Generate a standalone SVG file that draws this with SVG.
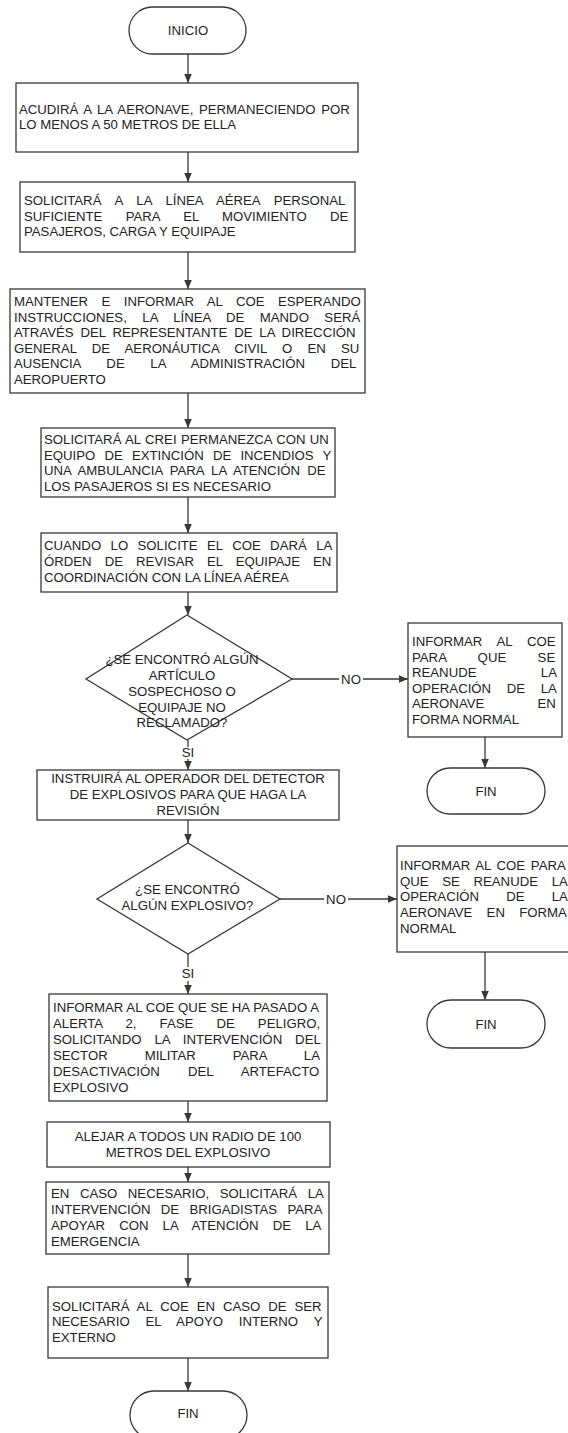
<svg xmlns="http://www.w3.org/2000/svg" width="568" height="1433" viewBox="0 0 568 1433">
<style>
.bg{fill:#ffffff}
.box{fill:none;stroke:#383838;stroke-width:1.3}
.ln{fill:none;stroke:#383838;stroke-width:1.3}
.t{font-family:"Liberation Sans",Arial,sans-serif;font-size:13.2px;fill:#222222}
.c{text-anchor:middle}
</style>
<defs>
<marker id="ah" viewBox="0 0 10 10" refX="10" refY="5" markerWidth="9" markerHeight="9" markerUnits="userSpaceOnUse" orient="auto">
<path d="M0,0.8 L10,5 L0,9.2 z" fill="#383838"/>
</marker>
</defs>
<rect class="bg" x="0" y="0" width="568" height="1433"/>

<g id="connectors">
<path class="ln" d="M188,54 V83" marker-end="url(#ah)"/>
<path class="ln" d="M188,152 V182" marker-end="url(#ah)"/>
<path class="ln" d="M188,252 V289" marker-end="url(#ah)"/>
<path class="ln" d="M188,393 V428" marker-end="url(#ah)"/>
<path class="ln" d="M188,497 V533" marker-end="url(#ah)"/>
<path class="ln" d="M188,592 V615" marker-end="url(#ah)"/>
<path class="ln" d="M292,679 H339"/>
<path class="ln" d="M363,679 H408" marker-end="url(#ah)"/>
<path class="ln" d="M485,737 V768" marker-end="url(#ah)"/>
<path class="ln" d="M188,740 V747"/>
<path class="ln" d="M188,759 V770" marker-end="url(#ah)"/>
<path class="ln" d="M188,820 V843" marker-end="url(#ah)"/>
<path class="ln" d="M280,899 H324"/>
<path class="ln" d="M348,899 H397" marker-end="url(#ah)"/>
<path class="ln" d="M485,952 V1000" marker-end="url(#ah)"/>
<path class="ln" d="M188,954 V967"/>
<path class="ln" d="M188,981 V994" marker-end="url(#ah)"/>
<path class="ln" d="M188,1101 V1122" marker-end="url(#ah)"/>
<path class="ln" d="M188,1167 V1182" marker-end="url(#ah)"/>
<path class="ln" d="M188,1254 V1287" marker-end="url(#ah)"/>
<path class="ln" d="M188,1358 V1391" marker-end="url(#ah)"/>
<text class="t c" x="351" y="684">NO</text>
<text class="t c" x="336" y="904">NO</text>
<text class="t c" x="188" y="757">SI</text>
<text class="t c" x="188" y="978">SI</text>
</g>

<g id="inicio">
<rect class="box" x="129" y="7" width="117" height="47" rx="23.5"/>
<text class="t c" x="188" y="35">INICIO</text>
</g>

<g id="acudira">
<rect class="box" x="16" y="83" width="342" height="69"/>
<text class="t" x="19" y="114" word-spacing="2">ACUDIRÁ A LA AERONAVE, PERMANECIENDO POR</text>
<text class="t" x="19" y="129">LO MENOS A 50 METROS DE ELLA</text>
</g>

<g id="solicitara-personal">
<rect class="box" x="20" y="182" width="335" height="70"/>
<text class="t" x="24" y="205" word-spacing="10.1">SOLICITARÁ A LA LÍNEA AÉREA PERSONAL</text>
<text class="t" x="24" y="220.7" word-spacing="19.6">SUFICIENTE PARA EL MOVIMIENTO DE</text>
<text class="t" x="24" y="236.4">PASAJEROS, CARGA Y EQUIPAJE</text>
</g>

<g id="mantener">
<rect class="box" x="10" y="289" width="355" height="104"/>
<text class="t" x="14" y="306" word-spacing="9.8">MANTENER E INFORMAR AL COE ESPERANDO</text>
<text class="t" x="14" y="321.6" word-spacing="11.8">INSTRUCCIONES, LA LÍNEA DE MANDO SERÁ</text>
<text class="t" x="14" y="337.2" word-spacing="3.2">ATRAVÉS DEL REPRESENTANTE DE LA DIRECCIÓN</text>
<text class="t" x="14" y="352.8" word-spacing="11.55">GENERAL DE AERONÁUTICA CIVIL O EN SU</text>
<text class="t" x="14" y="368.4" word-spacing="22">AUSENCIA DE LA ADMINISTRACIÓN DEL</text>
<text class="t" x="14" y="384">AEROPUERTO</text>
</g>

<g id="crei">
<rect class="box" x="41" y="428" width="294" height="69"/>
<text class="t" x="44" y="444" word-spacing="0.7">SOLICITARÁ AL CREI PERMANEZCA CON UN</text>
<text class="t" x="44" y="459.6" word-spacing="5.5">EQUIPO DE EXTINCIÓN DE INCENDIOS Y</text>
<text class="t" x="44" y="475.2" word-spacing="3.5">UNA AMBULANCIA PARA LA ATENCIÓN DE</text>
<text class="t" x="44" y="490.8">LOS PASAJEROS SI ES NECESARIO</text>
</g>

<g id="revisar-equipaje">
<rect class="box" x="41" y="533" width="296" height="59"/>
<text class="t" x="44" y="550" word-spacing="5.75">CUANDO LO SOLICITE EL COE DARÁ LA</text>
<text class="t" x="44" y="565.8" word-spacing="9.4">ÓRDEN DE REVISAR EL EQUIPAJE EN</text>
<text class="t" x="44" y="581.6">COORDINACIÓN CON LA LÍNEA AÉREA</text>
</g>

<g id="decision-articulo">
<path class="box" d="M187,615 L292,679 L187,740 L86,679 Z"/>
<text class="t c" x="182" y="664">¿SE ENCONTRÓ ALGÚN</text>
<text class="t c" x="182" y="680">ARTÍCULO</text>
<text class="t c" x="182" y="696">SOSPECHOSO O</text>
<text class="t c" x="182" y="711.5">EQUIPAJE NO</text>
<text class="t c" x="182" y="727">RECLAMADO?</text>
</g>

<g id="reanude-1">
<rect class="box" x="408" y="623" width="154" height="114"/>
<text class="t" x="412" y="646" word-spacing="11.25">INFORMAR AL COE</text>
<text class="t" x="412" y="661.5" word-spacing="27.75">PARA QUE SE</text>
<text class="t" x="412" y="677" word-spacing="60.7">REANUDE LA</text>
<text class="t" x="412" y="692.5" word-spacing="12">OPERACIÓN DE LA</text>
<text class="t" x="412" y="708" word-spacing="49.6">AERONAVE EN</text>
<text class="t" x="412" y="723.5">FORMA NORMAL</text>
</g>

<g id="fin-1">
<rect class="box" x="427" y="768" width="118" height="46" rx="23"/>
<text class="t c" x="486" y="796">FIN</text>
</g>

<g id="detector">
<rect class="box" x="37" y="770" width="302" height="50"/>
<text class="t c" x="188" y="783">INSTRUIRÁ AL OPERADOR DEL DETECTOR</text>
<text class="t c" x="188" y="798.8">DE EXPLOSIVOS PARA QUE HAGA LA</text>
<text class="t c" x="188" y="814.6">REVISIÓN</text>
</g>

<g id="decision-explosivo">
<path class="box" d="M188,843 L280,899 L188,954 L97,899 Z"/>
<text class="t c" x="187.5" y="894">¿SE ENCONTRÓ</text>
<text class="t c" x="187.5" y="910">ALGÚN EXPLOSIVO?</text>
</g>

<g id="reanude-2">
<rect class="box" x="397" y="846" width="178" height="106"/>
<text class="t" x="400" y="870" word-spacing="2">INFORMAR AL COE PARA</text>
<text class="t" x="400" y="885.7" word-spacing="10">QUE SE REANUDE LA</text>
<text class="t" x="400" y="901.4" word-spacing="23.5">OPERACIÓN DE LA</text>
<text class="t" x="400" y="917.1" word-spacing="10.65">AERONAVE EN FORMA</text>
<text class="t" x="400" y="932.8">NORMAL</text>
</g>

<g id="fin-2">
<rect class="box" x="427" y="1000" width="118" height="48" rx="24"/>
<text class="t c" x="486" y="1028.5">FIN</text>
</g>

<g id="alerta-2">
<rect class="box" x="49" y="994" width="278" height="107"/>
<text class="t" x="53" y="1012" word-spacing="0.1">INFORMAR AL COE QUE SE HA PASADO A</text>
<text class="t" x="53" y="1028" word-spacing="19.45">ALERTA 2, FASE DE PELIGRO,</text>
<text class="t" x="53" y="1044" word-spacing="9.3">SOLICITANDO LA INTERVENCIÓN DEL</text>
<text class="t" x="53" y="1060" word-spacing="33.3">SECTOR MILITAR PARA LA</text>
<text class="t" x="53" y="1076" word-spacing="24.6">DESACTIVACIÓN DEL ARTEFACTO</text>
<text class="t" x="53" y="1091.5">EXPLOSIVO</text>
</g>

<g id="alejar">
<rect class="box" x="47" y="1122" width="283" height="45"/>
<text class="t c" x="188" y="1141">ALEJAR A TODOS UN RADIO DE 100</text>
<text class="t c" x="188" y="1157">METROS DEL EXPLOSIVO</text>
</g>

<g id="brigadistas">
<rect class="box" x="46" y="1182" width="283" height="72"/>
<text class="t" x="51" y="1198" word-spacing="6.9">EN CASO NECESARIO, SOLICITARÁ LA</text>
<text class="t" x="51" y="1214" word-spacing="6.7">INTERVENCIÓN DE BRIGADISTAS PARA</text>
<text class="t" x="51" y="1230" word-spacing="10.5">APOYAR CON LA ATENCIÓN DE LA</text>
<text class="t" x="51" y="1245.5">EMERGENCIA</text>
</g>

<g id="apoyo">
<rect class="box" x="48" y="1287" width="280" height="71"/>
<text class="t" x="52" y="1310.5" word-spacing="4.25">SOLICITARÁ AL COE EN CASO DE SER</text>
<text class="t" x="52" y="1326" word-spacing="12.1">NECESARIO EL APOYO INTERNO Y</text>
<text class="t" x="52" y="1342">EXTERNO</text>
</g>

<g id="fin-3">
<rect class="box" x="130" y="1391" width="117" height="48" rx="24"/>
<text class="t c" x="188" y="1418">FIN</text>
</g>
</svg>
